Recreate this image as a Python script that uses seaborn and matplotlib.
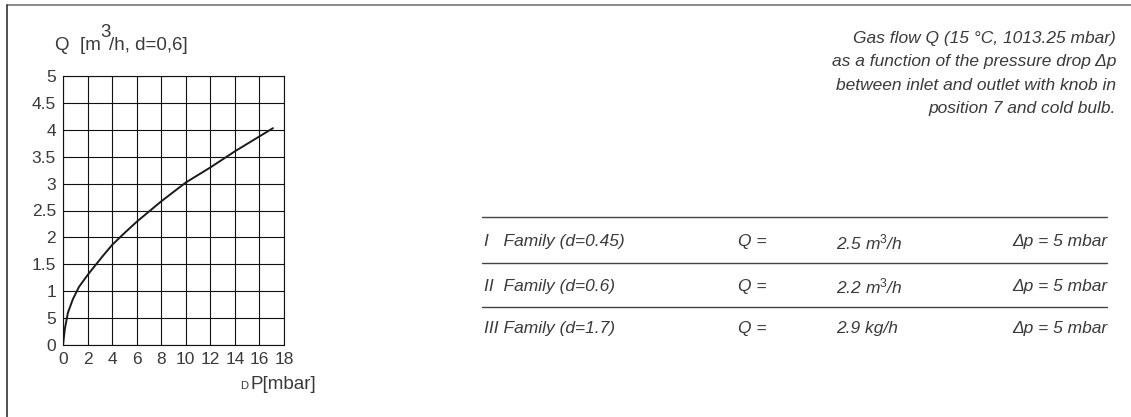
import matplotlib
matplotlib.use("Agg")
import matplotlib.pyplot as plt
import seaborn as sns
import pandas as pd
from matplotlib.lines import Line2D

# curve
dp_mbar = [0, 0.15, 0.4, 0.8, 1.3, 2.0, 2.7, 3.3, 4.0, 5.0, 6.0, 8.0, 10.0, 12.0, 14.0, 17.1]
q_m3h = [0, 0.3, 0.6, 0.85, 1.08, 1.3, 1.5, 1.67, 1.86, 2.08, 2.29, 2.67, 3.02, 3.3, 3.6, 4.03]

x_ticks = [0, 2, 4, 6, 8, 10, 12, 14, 16, 18]
y_ticks = [0, 0.5, 1, 1.5, 2, 2.5, 3, 3.5, 4, 4.5, 5]
y_tick_labels = ["0", "5", "1", "1.5", "2", "2.5", "3", "3.5", "4", "4.5", "5"]

desc_lines = [
    "Gas flow Q (15 °C, 1013.25 mbar)",
    "as a function of the pressure drop Δp",
    "between inlet and outlet with knob in",
    "position 7 and cold bulb.",
]
families = ["I   Family (d=0.45)", "II  Family (d=0.6)", "III Family (d=1.7)"]
q_labels = ["Q =", "Q =", "Q ="]
q_values = ["2.5 m$^3$/h", "2.2 m$^3$/h", "2.9 kg/h"]
dp_values = ["Δp = 5 mbar", "Δp = 5 mbar", "Δp = 5 mbar"]

sns.set_theme(style="white")
plt.rcParams["font.family"] = ["Liberation Sans", "DejaVu Sans"]
plt.rcParams["mathtext.fontset"] = "custom"
plt.rcParams["mathtext.rm"] = "Liberation Sans"
plt.rcParams["mathtext.it"] = "Liberation Sans:italic"

W, H = 1131, 417
fig = plt.figure(figsize=(W / 100, H / 100), dpi=100)
fig.patch.set_facecolor("white")

txt = "#3a3a3a"

# frame lines (top and left)
fig.add_artist(Line2D([7 / W, 1], [1 - 5 / H, 1 - 5 / H], color="#777777", lw=1.2))
fig.add_artist(Line2D([7 / W, 7 / W], [0, 1 - 5 / H], color="#333333", lw=1.2))

ax = fig.add_axes([63 / W, (H - 345) / H, 221 / W, 269 / H])
df = pd.DataFrame({"dp": dp_mbar, "q": q_m3h})
sns.lineplot(data=df, x="dp", y="q", ax=ax, color="#1a1a1a", lw=1.4, sort=True)
ax.set_xlim(0, 18)
ax.set_ylim(0, 5)
ax.set_xticks(x_ticks)
ax.set_yticks(y_ticks)
ax.set_yticklabels(y_tick_labels)
ax.grid(True, color="#111111", lw=0.8)
for s in ax.spines.values():
    s.set_color("#111111")
    s.set_linewidth(0.8)
ax.tick_params(axis="both", direction="out", length=4, width=0.8, color="#111111",
               labelsize=12.5, labelcolor=txt, pad=1)
ax.set_xlabel("")
ax.set_ylabel("")

# y axis title, superscript drawn full size and raised
renderer = fig.canvas.get_renderer()
t1 = fig.text(55 / W, 1 - 50 / H, "Q  [m", fontsize=13.5, color=txt, ha="left", va="baseline")
x1 = t1.get_window_extent(renderer).x1
t2 = fig.text((x1 - 1) / W, 1 - 37 / H, "3", fontsize=13.5, color=txt, ha="left", va="baseline")
x2 = t2.get_window_extent(renderer).x1
fig.text((x2 - 1) / W, 1 - 50 / H, "/h, d=0,6]", fontsize=13.5, color=txt, ha="left", va="baseline")

# x axis title
fig.text(240 / W, 1 - 389 / H, "D", fontsize=8, color=txt, ha="left", va="baseline")
fig.text(251 / W, 1 - 389 / H, "P[mbar]", fontsize=13.5, color=txt, ha="left", va="baseline")

# description
for i, line in enumerate(desc_lines):
    fig.text(1116 / W, 1 - (38 + 23.5 * i) / H, line, fontsize=12.5, color=txt,
             style="italic", ha="right", va="center")

# table lines
for yy in [217, 263, 307]:
    fig.add_artist(Line2D([482 / W, 1107 / W], [1 - yy / H, 1 - yy / H],
                          color="#444444", lw=1.0))

row_y = [242, 286, 328]
for i in range(3):
    y = 1 - row_y[i] / H
    fig.text(484 / W, y, families[i], fontsize=12.5, color=txt, style="italic",
             ha="left", va="center")
    fig.text(738 / W, y, q_labels[i], fontsize=12.5, color=txt, style="italic",
             ha="left", va="center")
    fig.text(836 / W, y, q_values[i], fontsize=12.5, color=txt, style="italic",
             ha="left", va="center")
    fig.text(1107 / W, y, dp_values[i], fontsize=12.5, color=txt, style="italic",
             ha="right", va="center")

fig.savefig("out.png", dpi=100, facecolor="white")
